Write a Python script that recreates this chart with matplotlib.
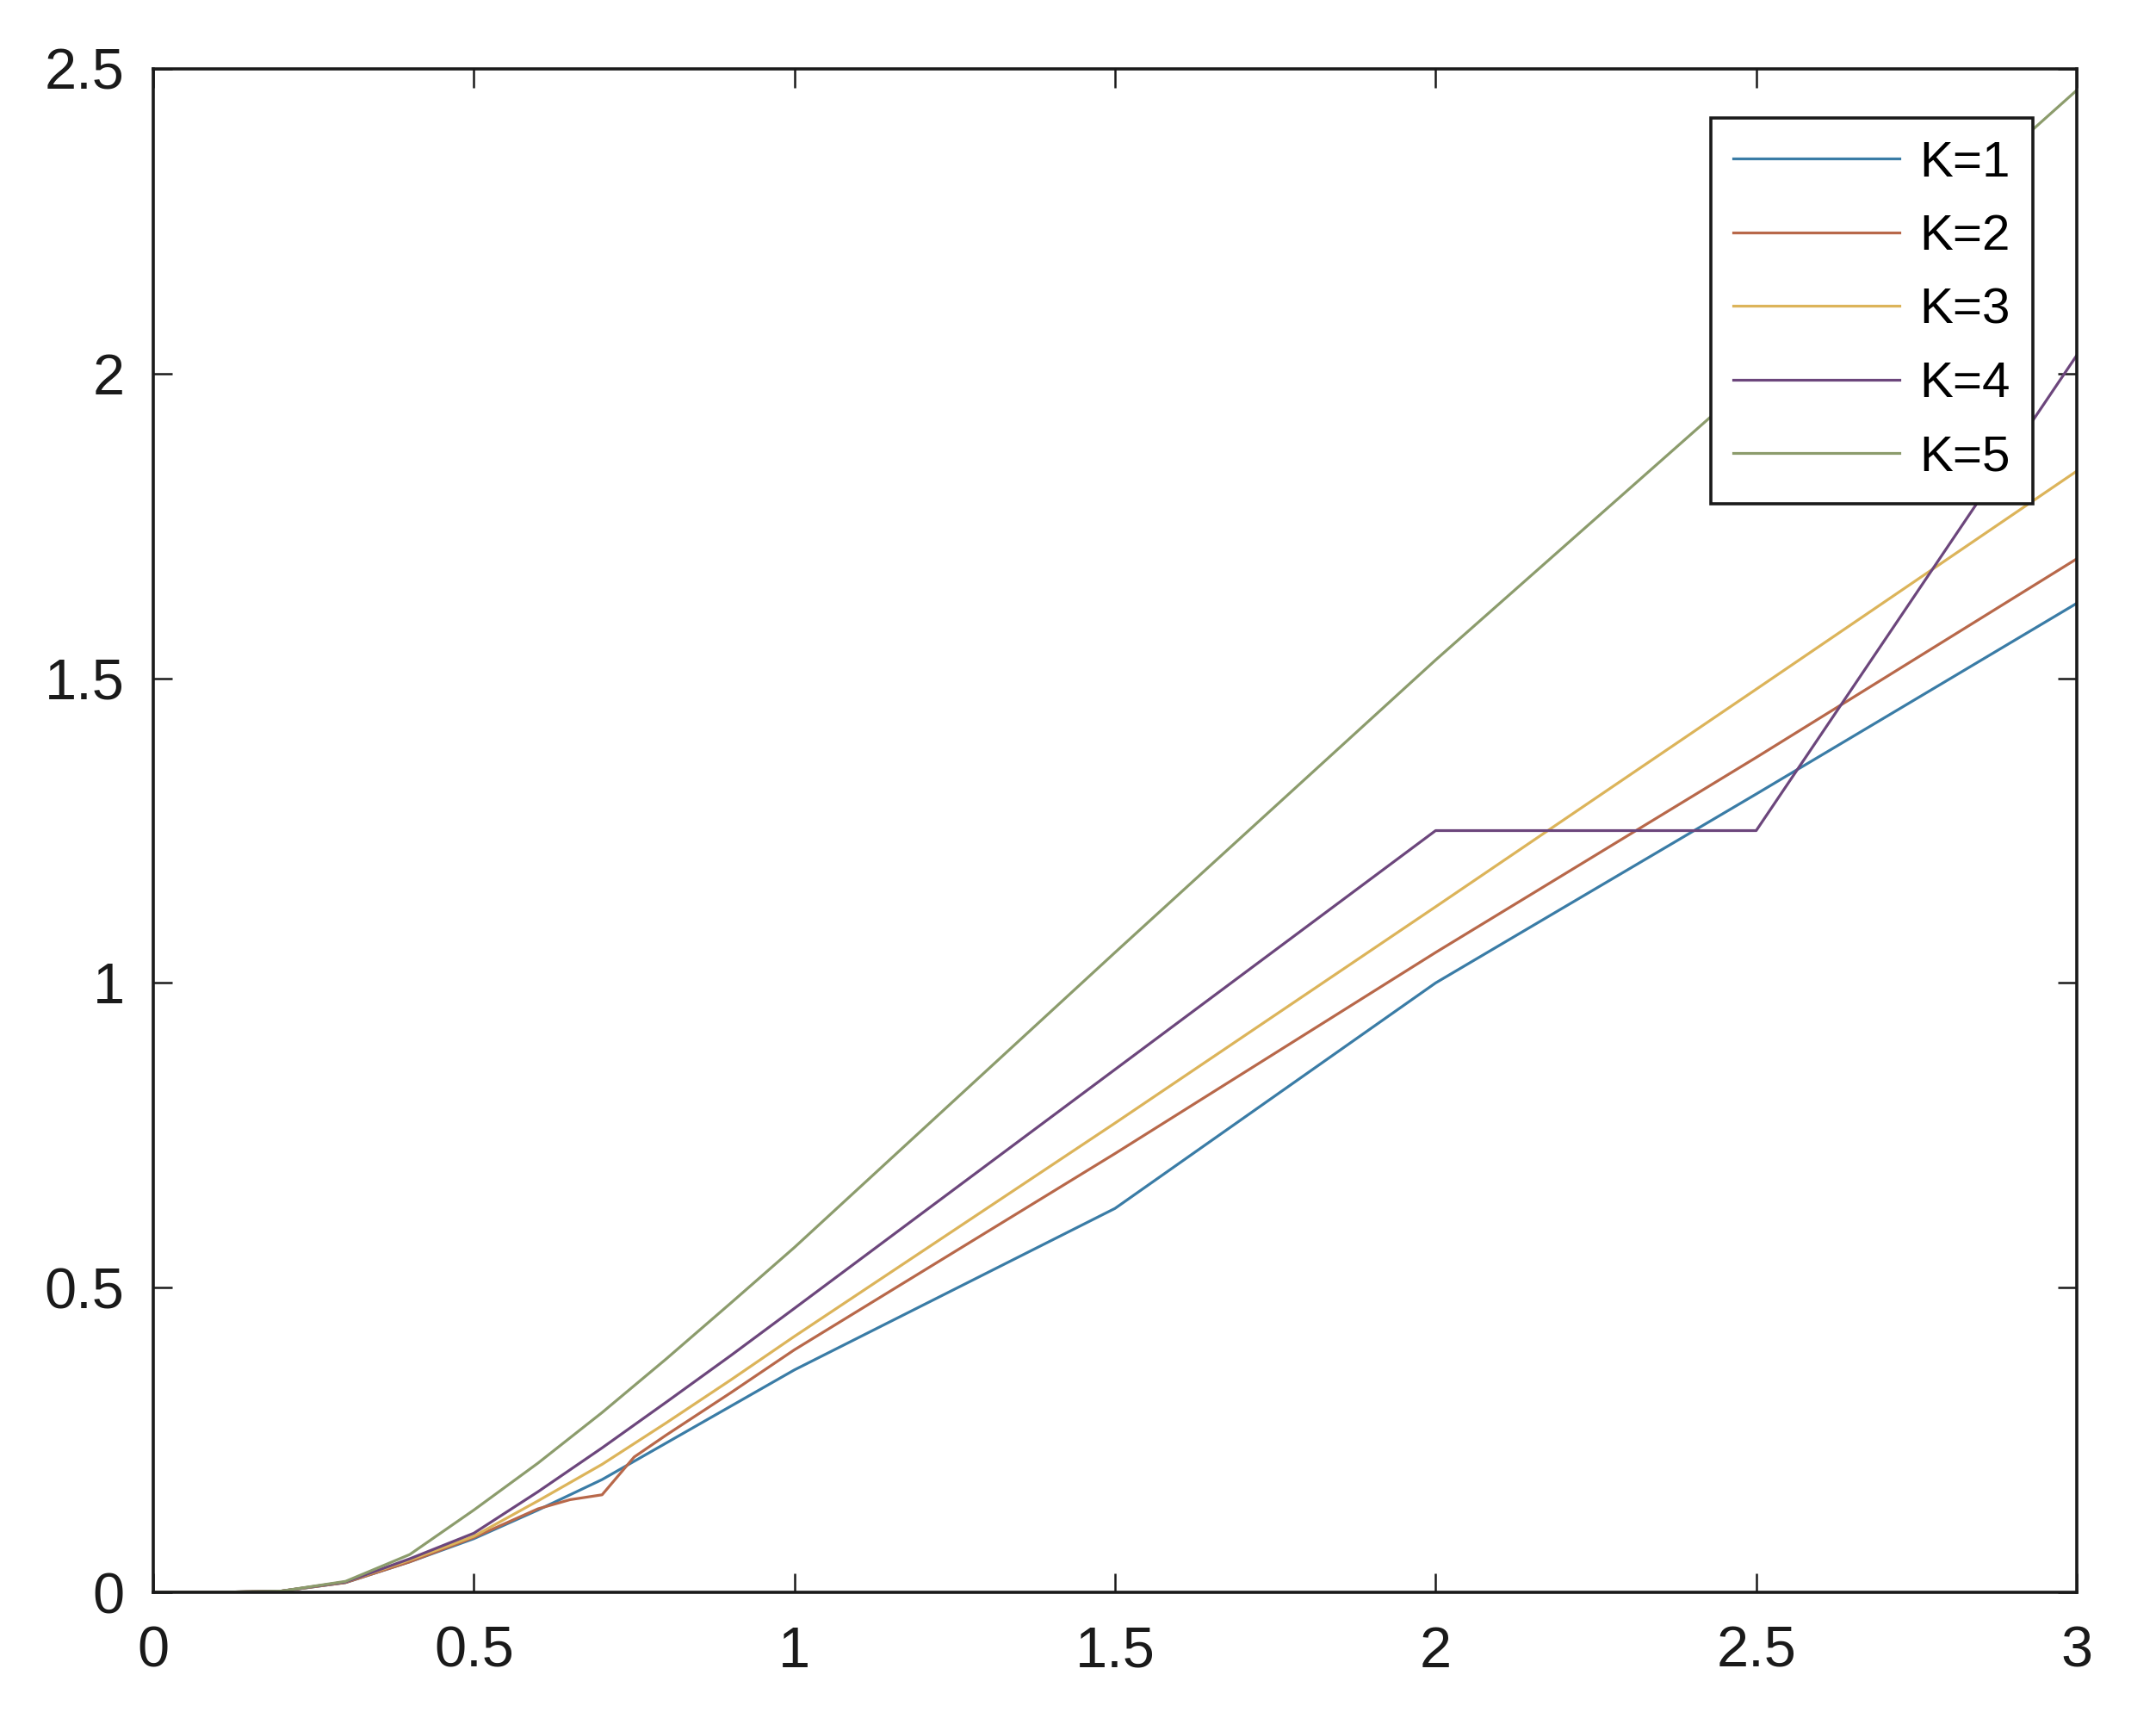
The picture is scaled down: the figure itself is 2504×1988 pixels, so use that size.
import matplotlib
matplotlib.use("Agg")
import matplotlib.pyplot as plt

plt.rcParams['font.family'] = ['Liberation Sans', 'DejaVu Sans']

# ---- data ----
x_common = [0, 0.1, 0.2, 0.3, 0.4, 0.5, 0.6, 0.7, 0.8, 0.9, 1.0, 1.5, 2.0, 2.5, 3.0]
x_k2 = [0, 0.1, 0.2, 0.3, 0.4, 0.5, 0.6, 0.65, 0.7, 0.75, 0.8, 0.9, 1.0, 1.5, 2.0, 2.5, 3.0]

y_k1 = [0, 0, 0.002, 0.016, 0.050, 0.088, 0.135, 0.185, 0.245, 0.305, 0.365, 0.63, 1.00, 1.31, 1.623]
y_k2 = [0, 0, 0.002, 0.016, 0.050, 0.090, 0.137, 0.152, 0.160, 0.222, 0.258, 0.327, 0.398, 0.72, 1.05, 1.37, 1.696]
y_k3 = [0, 0, 0.002, 0.017, 0.053, 0.092, 0.150, 0.210, 0.278, 0.348, 0.420, 0.77, 1.125, 1.482, 1.84]
y_k4 = [0, 0, 0.002, 0.017, 0.055, 0.097, 0.165, 0.237, 0.312, 0.388, 0.466, 0.858, 1.25, 1.25, 2.03]
y_k5 = [0, 0, 0.002, 0.018, 0.062, 0.135, 0.212, 0.295, 0.383, 0.474, 0.566, 1.05, 1.53, 1.995, 2.465]

labels = ['K=1', 'K=2', 'K=3', 'K=4', 'K=5']
colors = ['#3a7ca6', '#b8684a', '#dcb45a', '#6c467c', '#8c9c6c']

x_ticks = [0, 0.5, 1, 1.5, 2, 2.5, 3]
x_ticklabels = ['0', '0.5', '1', '1.5', '2', '2.5', '3']
y_ticks = [0, 0.5, 1, 1.5, 2, 2.5]
y_ticklabels = ['0', '0.5', '1', '1.5', '2', '2.5']

# ---- figure ----
fig = plt.figure(figsize=(25.04, 19.88), dpi=100)
ax = fig.add_axes([178 / 2504, 1 - 1849 / 1988, (2412 - 178) / 2504, (1849 - 80) / 1988])

series = [(x_common, y_k1), (x_k2, y_k2), (x_common, y_k3), (x_common, y_k4), (x_common, y_k5)]
for (xs, ys), lab, col in zip(series, labels, colors):
    ax.plot(xs, ys, color=col, lw=2.3, label=lab)

ax.set_xlim(0, 3)
ax.set_ylim(0, 2.5)
ax.set_xticks(x_ticks)
ax.set_xticklabels(x_ticklabels)
ax.set_yticks(y_ticks)
ax.set_yticklabels(y_ticklabels)

for s in ax.spines.values():
    s.set_linewidth(2.6)
    s.set_color('#1a1a1a')

ax.tick_params(axis='both', direction='in', length=16, width=1.8, colors='#1a1a1a',
               labelsize=48, top=True, right=True)
ax.tick_params(axis='x', pad=28)
ax.tick_params(axis='y', pad=24)

leg = ax.legend(loc='upper right', bbox_to_anchor=(0.977, 0.968), borderaxespad=0,
                fontsize=42, handlelength=3.3, handletextpad=0.4, borderpad=0.45,
                labelspacing=0.54, fancybox=False, framealpha=1, edgecolor='#1a1a1a')
leg.get_frame().set_linewidth(2.6)

fig.savefig('out.png', dpi=100, facecolor='white')
